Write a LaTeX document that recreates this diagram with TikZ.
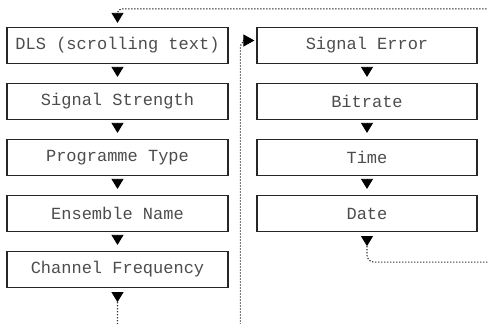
\documentclass[tikz,border=0pt]{standalone}
\usepackage{fontspec}
\setmonofont{Liberation Mono}
\usetikzlibrary{arrows.meta}
\usetikzlibrary{calc}

\tikzset{
  menubox/.style={draw=black!85, line width=1.2pt, minimum width=221pt, minimum height=36pt,
    inner sep=0pt, text=black!70, font=\ttfamily\fontsize{17}{20}\selectfont},
  flow/.style={line width=0.8pt, -{Triangle[width=12pt,length=10pt]},
    shorten <=4pt, shorten >=6pt},
  wrap/.style={line width=1.1pt, black!80, dash pattern=on 1.3pt off 1.7pt, rounded corners=7pt},
}

\begin{document}
\begin{tikzpicture}[x=1pt,y=-1pt]

        \clip (0,0) rectangle (488,324);

        % Left column
        \foreach \txt [count=\i] in {DLS (scrolling text), Signal Strength, Programme Type, Ensemble Name, Channel Frequency}
        {
          \node[menubox] (L\i) at ($(117.5,45.5)+(0,56*\i-56)$) {\txt};
        }

        % Right column
        \foreach \txt [count=\i] in {Signal Error, Bitrate, Time, Date}
        {
          \node[menubox, minimum width=220pt] (R\i) at ($(367,45.5)+(0,56*\i-56)$) {\txt};
        }

        % Arrows down the columns
        \foreach \i/\j in {1/2,2/3,3/4,4/5}
          \draw[flow] (L\i.south) -- (L\j.north);
        \foreach \i/\j in {1/2,2/3,3/4}
          \draw[flow] (R\i.south) -- (R\j.north);

        % Channel Frequency round to Signal Error
        \coordinate (L5out) at ($(L5.south)+(0,14)$);
        \coordinate (R1in) at ($(R1.west)+(-13,-5)$);
        \draw[wrap] (L5out) |- ($(R1in)+(-3,300)$) |- ($(R1in)+(4,0)$);
        \draw[flow, shorten >=0pt] (L5.south) -- (L5out);
        \draw[flow, shorten <=0pt, shorten >=2pt, -{Triangle[width=12pt,length=11pt]}] (R1in) -- (R1.west |- R1in);

        % Date back to the top
        \coordinate (R4out) at ($(R4.south)+(0,14)$);
        \coordinate (R4off) at ($(R4out)+(140,16)$);
        \coordinate (L1in) at ($(L1.north)+(0,-14)$);
        \coordinate (L1off) at ($(L1in)+(390,-4)$);
        \draw[wrap] (R4out) |- (R4off);
        \draw[flow, shorten >=0pt] (R4.south) -- (R4out);
        \draw[wrap, rounded corners=4pt] (L1off) -| (L1in);
        \draw[flow, shorten <=0pt, shorten >=4pt] (L1in) -- (L1.north);

    \end{tikzpicture}
\end{document}
